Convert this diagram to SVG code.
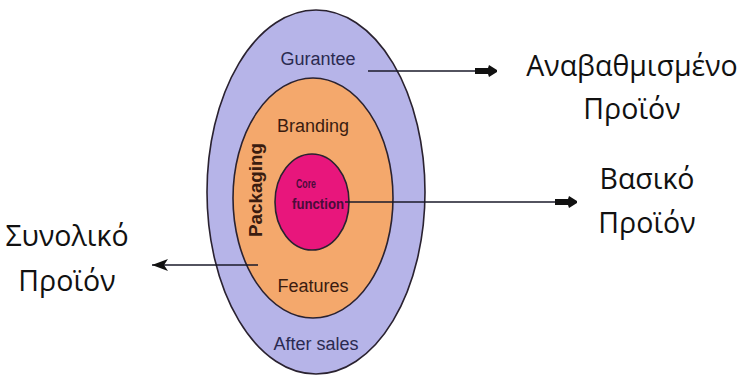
<svg xmlns="http://www.w3.org/2000/svg" width="739" height="377" viewBox="0 0 739 377">
  <style>
    .ring { stroke: #2a2230; stroke-width: 1.6; }
    .lbl { font-family: "Liberation Sans", Arial, sans-serif; font-size: 18px; text-anchor: middle; }
    .gr { font-family: "Open Sans", "Noto Sans", sans-serif; font-size: 28.5px; fill: #111; text-anchor: middle; }
    .conn { stroke: #1a1a2a; stroke-width: 1.6; fill: none; }
    .core { font-family: "Liberation Sans", Arial, sans-serif; fill: #4a0c3a; text-anchor: middle; font-weight: bold; }
  </style>
  <defs>
    <marker id="head" viewBox="0 0 22 12" refX="22" refY="6" markerWidth="22" markerHeight="12" markerUnits="userSpaceOnUse" orient="auto">
      <path d="M0,3 L13,3 L14,0 L22,5 L22,7 L14,12 L13,9 L0,9 Z" fill="#111"/>
    </marker>
    <marker id="headL" viewBox="0 0 16 12" refX="16" refY="6" markerWidth="16" markerHeight="12" markerUnits="userSpaceOnUse" orient="auto">
      <path d="M0,0 L16,6 L0,12 L4,6 Z" fill="#111"/>
    </marker>
  </defs>
  <rect width="739" height="377" fill="#ffffff"/>

  <g id="augmented">
    <ellipse class="ring" cx="316" cy="192" rx="109" ry="182" fill="#b6b4e8"/>
    <text class="lbl" x="318" y="65" fill="#2a2a50">Gurantee</text>
    <text class="lbl" x="316" y="350" fill="#2a2a50">After sales</text>
  </g>

  <g id="actual">
    <ellipse class="ring" cx="313" cy="198" rx="80" ry="120" fill="#f4a86c"/>
    <text class="lbl" x="313" y="132" fill="#3a1c10">Branding</text>
    <text class="lbl" x="313" y="292" fill="#3a1c10">Features</text>
    <text x="0" y="0" transform="translate(262 190) rotate(-90)" font-family="Liberation Sans, Arial, sans-serif" font-size="19" font-weight="bold" text-anchor="middle" fill="#3a1c10" textLength="94" lengthAdjust="spacingAndGlyphs">Packaging</text>
  </g>

  <g id="core">
    <ellipse class="ring" cx="312" cy="202" rx="37" ry="48" fill="#e8167c"/>
    <text class="core" x="306" y="188" font-size="13" textLength="20" lengthAdjust="spacingAndGlyphs">Core</text>
    <text class="core" x="318" y="209" font-size="14" textLength="52" lengthAdjust="spacingAndGlyphs">function</text>
  </g>

  <g id="connectors">
    <line class="conn" x1="368" y1="71" x2="497" y2="71" marker-end="url(#head)"/>
    <line class="conn" x1="345" y1="202" x2="577" y2="202" marker-end="url(#head)"/>
    <line class="conn" x1="258" y1="265" x2="152" y2="265" marker-end="url(#headL)"/>
  </g>

  <g id="label-augmented">
    <text class="gr" x="632" y="76">Αναβαθμισμένο</text>
    <text class="gr" x="632" y="119">Προϊόν</text>
  </g>
  <g id="label-core">
    <text class="gr" x="647" y="189">Βασικό</text>
    <text class="gr" x="647" y="233">Προϊόν</text>
  </g>
  <g id="label-total">
    <text class="gr" x="67" y="246">Συνολικό</text>
    <text class="gr" x="67" y="291">Προϊόν</text>
  </g>
</svg>
